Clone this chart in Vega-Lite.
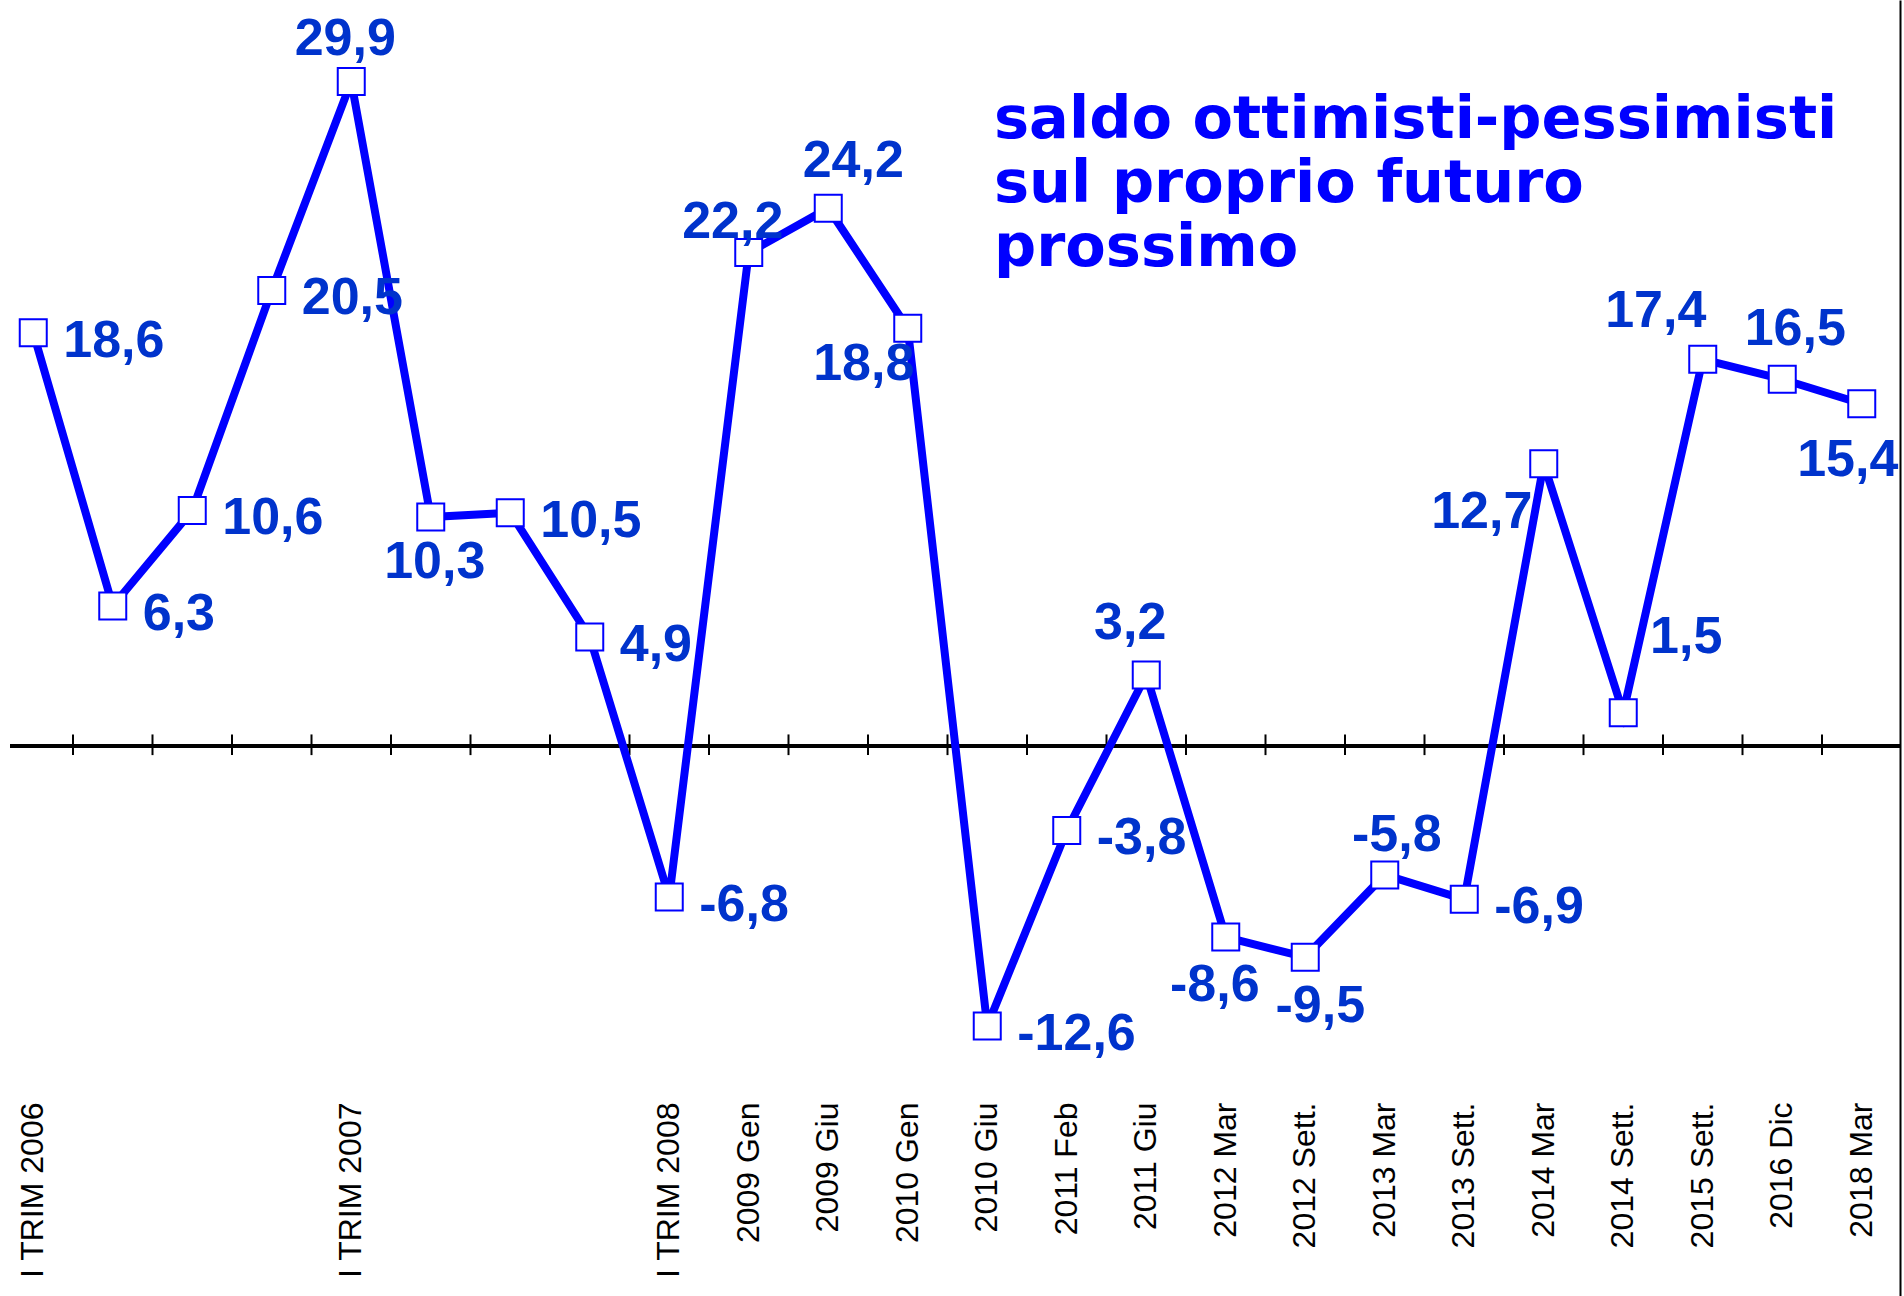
{
  "$schema": "https://vega.github.io/schema/vega-lite/v6.json",
  "autosize": "none",
  "padding": {"left": 10, "top": 0, "right": 4, "bottom": 0},
  "width": 1890,
  "height": 1296,
  "background": "white",
  "title": {
    "text": ["saldo ottimisti-pessimisti", "sul proprio futuro", "prossimo"],
    "anchor": "start",
    "frame": "group",
    "orient": "top",
    "offset": 0,
    "dx": 984,
    "dy": 278,
    "baseline": "top",
    "font": "DejaVu Sans",
    "fontWeight": "bold",
    "fontSize": 59,
    "lineHeight": 64,
    "color": "#0000FF"
  },
  "data": {
    "values": [
      {"periodo": "I TRIM 2006", "valore": 18.6},
      {"periodo": "II TRIM 2006", "valore": 6.3},
      {"periodo": "III TRIM 2006", "valore": 10.6},
      {"periodo": "IV TRIM 2006", "valore": 20.5},
      {"periodo": "I TRIM 2007", "valore": 29.9},
      {"periodo": "II TRIM 2007", "valore": 10.3},
      {"periodo": "III TRIM 2007", "valore": 10.5},
      {"periodo": "IV TRIM 2007", "valore": 4.9},
      {"periodo": "I TRIM 2008", "valore": -6.8},
      {"periodo": "2009 Gen", "valore": 22.2},
      {"periodo": "2009 Giu", "valore": 24.2},
      {"periodo": "2010 Gen", "valore": 18.8},
      {"periodo": "2010 Giu", "valore": -12.6},
      {"periodo": "2011 Feb", "valore": -3.8},
      {"periodo": "2011 Giu", "valore": 3.2},
      {"periodo": "2012 Mar", "valore": -8.6},
      {"periodo": "2012 Sett.", "valore": -9.5},
      {"periodo": "2013 Mar", "valore": -5.8},
      {"periodo": "2013 Sett.", "valore": -6.9},
      {"periodo": "2014 Mar", "valore": 12.7},
      {"periodo": "2014 Sett.", "valore": 1.5},
      {"periodo": "2015 Sett.", "valore": 17.4},
      {"periodo": "2016 Dic", "valore": 16.5},
      {"periodo": "2018 Mar", "valore": 15.4}
    ]
  },
  "encoding": {
    "x": {
      "field": "periodo", "type": "ordinal", "sort": null, "bandPosition": 0.5,
      "scale": {"type": "band", "paddingInner": 0, "paddingOuter": 0, "range": [-16.5, 1891.5]},
      "axis": {
        "orient": "bottom", "title": null, "domain": false, "ticks": false, "tickSize": 0,
        "labelAngle": 270, "labelAlign": "right", "labelBaseline": "middle",
        "labelPadding": 0, "offset": -194, "labelFont": "Liberation Sans", "labelFontSize": 32,
        "labelColor": "black", "labelLimit": 400, "labelOverlap": false,
        "labelExpr": "indexof(datum.label, 'TRIM') < 0 || indexof(datum.label, 'I TRIM') == 0 ? datum.label : ''"
      }
    },
    "y": {
      "field": "valore", "type": "quantitative",
      "scale": {"domain": [-24.748, 33.567], "nice": false, "zero": false},
      "axis": {"orient": "right", "title": null, "labels": false, "ticks": false, "grid": false, "domain": true, "domainColor": "black", "domainWidth": 2}
    }
  },
  "layer": [
    {
      "mark": {"type": "rule", "color": "black", "strokeWidth": 2},
      "encoding": {
        "x": {
          "field": "periodo", "type": "ordinal", "sort": null, "bandPosition": 0,
          "scale": {"type": "band", "paddingInner": 0, "paddingOuter": 0, "range": [-16.5, 1891.5]}
        },
        "y": {"datum": -0.41, "type": "quantitative", "scale": {"domain": [-24.748, 33.567], "nice": false, "zero": false}},
        "y2": {"datum": 0.52}
      }
    },
    {
      "mark": {"type": "rule", "color": "black", "strokeWidth": 3},
      "encoding": {
        "x": null,
        "y": {"datum": 0, "type": "quantitative", "scale": {"domain": [-24.748, 33.567], "nice": false, "zero": false}}
      }
    },
    {
      "mark": {"type": "line", "color": "#0000FF", "strokeWidth": 8, "strokeJoin": "miter"}
    },
    {
      "mark": {"type": "point", "shape": "square", "filled": true, "fill": "white", "stroke": "#0000FF", "strokeWidth": 2, "size": 729, "opacity": 1}
    },
    {
      "transform": [{"filter": {"field": "periodo", "oneOf": ["I TRIM 2006", "II TRIM 2006", "III TRIM 2006", "IV TRIM 2006", "III TRIM 2007", "IV TRIM 2007", "I TRIM 2008", "2010 Giu", "2011 Feb", "2013 Sett."]}}],
      "mark": {"type": "text", "align": "left", "baseline": "middle", "dx": 30, "dy": 8},
      "encoding": {"text": {"field": "valore", "type": "quantitative", "format": ".1f"}}
    },
    {"transform": [{"filter": "datum.periodo == 'I TRIM 2007'"}], "mark": {"type": "text", "dx": -6, "dy": -42}, "encoding": {"text": {"field": "valore", "type": "quantitative", "format": ".1f"}}},
    {"transform": [{"filter": "datum.periodo == 'II TRIM 2007'"}], "mark": {"type": "text", "dx": 4, "dy": 45}, "encoding": {"text": {"field": "valore", "type": "quantitative", "format": ".1f"}}},
    {"transform": [{"filter": "datum.periodo == '2009 Gen'"}], "mark": {"type": "text", "dx": -16, "dy": -31}, "encoding": {"text": {"field": "valore", "type": "quantitative", "format": ".1f"}}},
    {"transform": [{"filter": "datum.periodo == '2009 Giu'"}], "mark": {"type": "text", "dx": 25, "dy": -47}, "encoding": {"text": {"field": "valore", "type": "quantitative", "format": ".1f"}}},
    {"transform": [{"filter": "datum.periodo == '2010 Gen'"}], "mark": {"type": "text", "dx": -44, "dy": 36}, "encoding": {"text": {"field": "valore", "type": "quantitative", "format": ".1f"}}},
    {"transform": [{"filter": "datum.periodo == '2011 Giu'"}], "mark": {"type": "text", "dx": -16, "dy": -52}, "encoding": {"text": {"field": "valore", "type": "quantitative", "format": ".1f"}}},
    {"transform": [{"filter": "datum.periodo == '2012 Mar'"}], "mark": {"type": "text", "dx": -11, "dy": 48}, "encoding": {"text": {"field": "valore", "type": "quantitative", "format": ".1f"}}},
    {"transform": [{"filter": "datum.periodo == '2012 Sett.'"}], "mark": {"type": "text", "dx": 15, "dy": 49}, "encoding": {"text": {"field": "valore", "type": "quantitative", "format": ".1f"}}},
    {"transform": [{"filter": "datum.periodo == '2013 Mar'"}], "mark": {"type": "text", "dx": 12, "dy": -40}, "encoding": {"text": {"field": "valore", "type": "quantitative", "format": ".1f"}}},
    {"transform": [{"filter": "datum.periodo == '2014 Mar'"}], "mark": {"type": "text", "dx": -62, "dy": 48}, "encoding": {"text": {"field": "valore", "type": "quantitative", "format": ".1f"}}},
    {"transform": [{"filter": "datum.periodo == '2014 Sett.'"}], "mark": {"type": "text", "dx": 63, "dy": -76}, "encoding": {"text": {"field": "valore", "type": "quantitative", "format": ".1f"}}},
    {"transform": [{"filter": "datum.periodo == '2015 Sett.'"}], "mark": {"type": "text", "dx": -47, "dy": -48}, "encoding": {"text": {"field": "valore", "type": "quantitative", "format": ".1f"}}},
    {"transform": [{"filter": "datum.periodo == '2016 Dic'"}], "mark": {"type": "text", "dx": 13, "dy": -50}, "encoding": {"text": {"field": "valore", "type": "quantitative", "format": ".1f"}}},
    {"transform": [{"filter": "datum.periodo == '2018 Mar'"}], "mark": {"type": "text", "dx": -14, "dy": 56}, "encoding": {"text": {"field": "valore", "type": "quantitative", "format": ".1f"}}}
  ],
  "config": {
    "view": {"stroke": null},
    "axis": {"grid": false},
    "locale": {"number": {"decimal": ",", "thousands": ".", "grouping": [3], "currency": ["", " €"], "minus": "-"}},
    "text": {"font": "Liberation Sans", "fontWeight": "bold", "fontSize": 52, "color": "#0033CC", "align": "center", "baseline": "middle"}
  }
}
